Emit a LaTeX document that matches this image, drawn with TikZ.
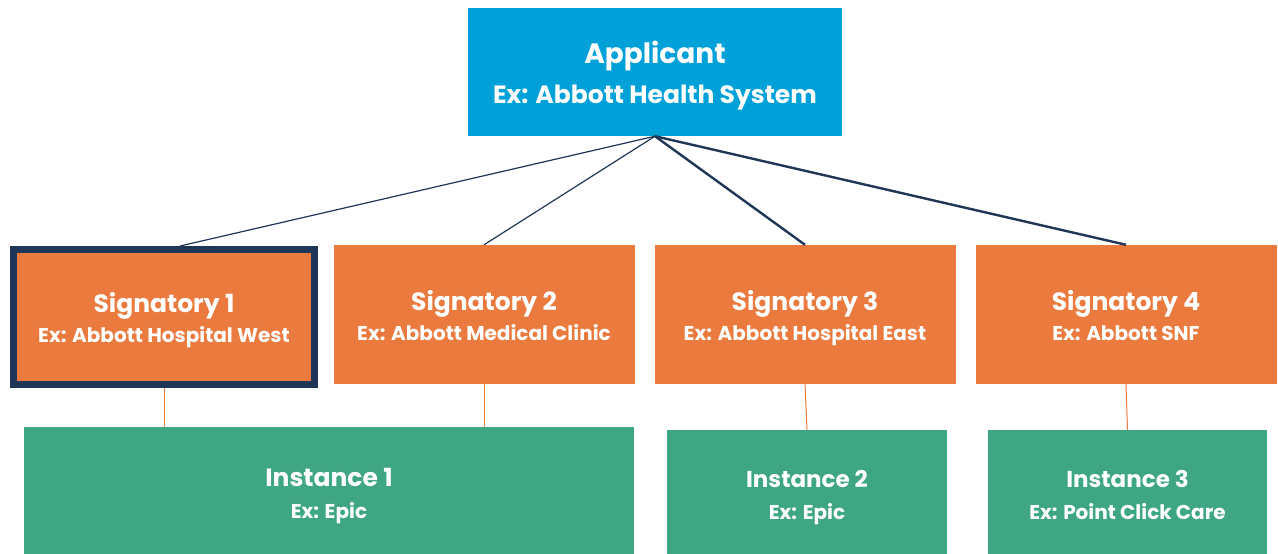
\documentclass[tikz,border=0pt]{standalone}
\usepackage{fontspec}
\setmainfont{Poppins}
\usetikzlibrary{calc}

\definecolor{appblue}{RGB}{0,161,216}
\definecolor{signorange}{RGB}{234,122,61}
\definecolor{instgreen}{RGB}{63,166,132}
\definecolor{linknavy}{RGB}{31,54,87}

\begin{document}
\begin{tikzpicture}[x=1pt,y=-1pt,
    applicantbox/.style={fill=appblue,minimum width=374pt,minimum height=128pt,inner sep=0pt},
    signbox/.style={fill=signorange,minimum width=301pt,minimum height=139pt,inner sep=0pt},
    instbox/.style={fill=instgreen,minimum height=136pt,inner sep=0pt},
    boxtext/.style={text=white,anchor=base,inner sep=0pt,font=\fontsize{#1}{#1}\selectfont\bfseries},
    thinlink/.style={draw=linknavy,line width=1.2pt},
    thicklink/.style={draw=linknavy,line width=2.4pt},
    droplink/.style={draw=signorange,line width=1pt}]
    \useasboundingbox (0,0) rectangle (1278,554);

    %Shape: Applicant
    \node [applicantbox] (applicant) at (655,72) {};
    \node [boxtext=28] (applicanttitle) at ($(applicant)+(0,-9)$) {Applicant};
    \node [boxtext=25] (applicantex) at ($(applicant)+(0,31)$) {Ex: Abbott Health System};

    %Shape: Signatories
    \node [signbox,draw=linknavy,line width=7pt,minimum height=135pt] (sig1) at (164,317) {};
    \node [signbox] (sig2) at (484,314.5) {};
    \node [signbox] (sig3) at (805,314.5) {};
    \node [signbox] (sig4) at (1126,314.5) {};

    % Text Node
    \node [boxtext=25] (sig1title) at ($(sig1)+(0,-4.5)$) {Signatory 1};
    \node [boxtext=20] (sig1ex) at ($(sig1)+(0,25.5)$) {Ex: Abbott Hospital West};
    \node [boxtext=25] (sig2title) at ($(sig2)+(0,-4.5)$) {Signatory 2};
    \node [boxtext=20] (sig2ex) at ($(sig2)+(0,26)$) {Ex: Abbott Medical Clinic};
    \node [boxtext=25] (sig3title) at ($(sig3)+(0,-4.5)$) {Signatory 3};
    \node [boxtext=20] (sig3ex) at ($(sig3)+(0,26)$) {Ex: Abbott Hospital East};
    \node [boxtext=25] (sig4title) at ($(sig4)+(0,-4.5)$) {Signatory 4};
    \node [boxtext=20] (sig4ex) at ($(sig4)+(0,26)$) {Ex: Abbott SNF};

    %Shape: Instances
    \node [instbox,minimum width=610pt] (inst1) at (329,495) {};
    \node [instbox,minimum width=280pt] (inst2) at (807,498) {};
    \node [instbox,minimum width=279pt] (inst3) at (1127.5,498) {};

    % Text Node
    \node [boxtext=25] (inst1title) at ($(inst1.north)+(0,60)$) {Instance 1};
    \node [boxtext=20] (inst1ex) at ($(inst1.north)+(0,92)$) {Ex: Epic};
    \node [boxtext=23] (inst2title) at ($(inst2.north)+(0,58)$) {Instance 2};
    \node [boxtext=20] (inst2ex) at ($(inst2.north)+(0,90)$) {Ex: Epic};
    \node [boxtext=23] (inst3title) at ($(inst3.north)+(0,58)$) {Instance 3};
    \node [boxtext=20] (inst3ex) at ($(inst3.north)+(0,90)$) {Ex: Point Click Care};

    %Straight Lines: applicant to signatories
    \draw [thinlink] (applicant.south) -- ($(sig1.north)+(16,0)$);
    \draw [thinlink] (applicant.south) -- (sig2.north);
    \draw [thicklink] (applicant.south) -- (sig3.north);
    \draw [thicklink] (applicant.south) -- (sig4.north);

    %Straight Lines: signatories to instances
    \draw [droplink] (sig1.south) -- (sig1.south |- inst1.north);
    \draw [droplink] (sig2.south) -- (sig2.south |- inst1.north);
    \draw [droplink] (sig3.south) -- (inst2.north);
    \draw [droplink] (sig4.south) -- (inst3.north);

\end{tikzpicture}
\end{document}
